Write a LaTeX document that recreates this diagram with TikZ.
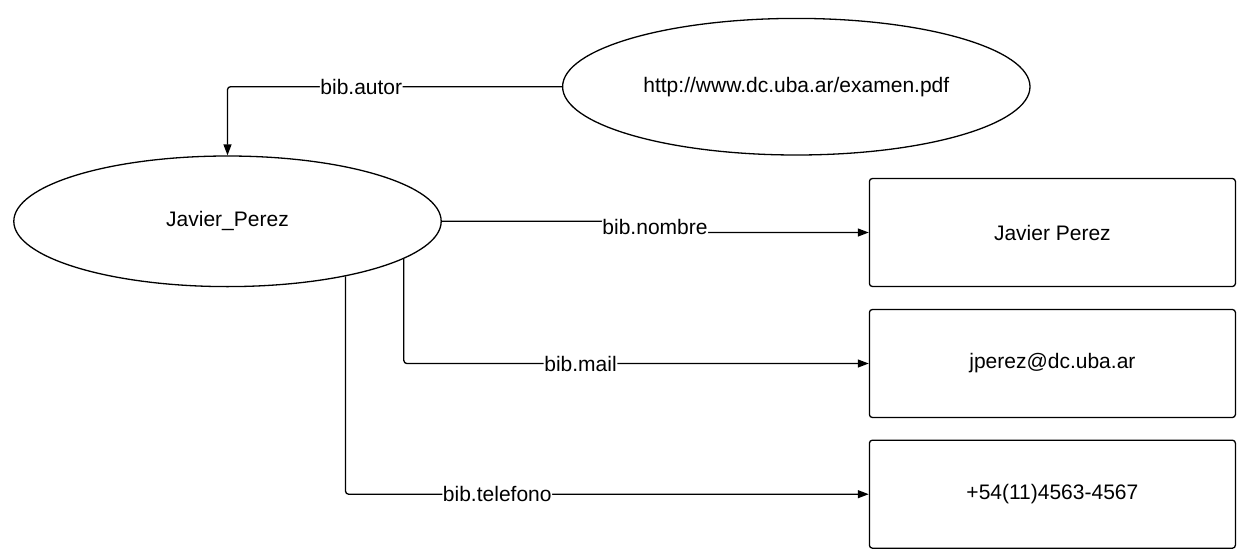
\documentclass[tikz,border=0pt]{standalone}
\usepackage{fontspec}
\setmainfont{Liberation Sans}
\usetikzlibrary{shapes.geometric,arrows.meta}
\begin{document}
\begin{tikzpicture}[x=1pt,y=-1pt,
  every node/.style={font=\fontsize{21}{25}\selectfont},
  oval/.style={draw, ellipse, inner sep=0pt, line width=1.3pt},
  valbox/.style={draw, rectangle, rounded corners=3pt, minimum width=366pt, minimum height=108pt, line width=1.3pt},
  conn/.style={draw, line width=1.3pt, rounded corners=3pt, -{Triangle[length=11pt,width=8pt]}},
  lbl/.style={fill=white, inner sep=0.6pt}]
\useasboundingbox (0,0) rectangle (1245,557);
\node[oval, minimum width=467.4pt, minimum height=136.6pt] (url) at (796.3,86.7) {http://www.dc.uba.ar/examen.pdf};
\node[oval, minimum width=427.4pt, minimum height=130.6pt] (J) at (227.5,221.3) {Javier\_Perez};
\node[valbox] (b1) at (1052.4,232.5) {Javier Perez};
\node[valbox] (b2) at (1052.4,363.5) {jperez@dc.uba.ar};
\node[valbox] (b3) at (1052.4,494.2) {+54(11)4563-4567};
\coordinate (nm) at (655,227);
\draw[conn] (url.west) -| node[lbl,pos=0.3]{bib.autor} (J.north);
\draw[conn] (J.east) -- (J.east -| nm) -- node[lbl]{bib.nombre} (nm |- b1.west) -- (b1.west);
\draw[conn] (J.-12.45) |- node[lbl,pos=0.69]{bib.mail} (b2.west);
\draw[conn] (J.-25.7) |- node[lbl,pos=0.645]{bib.telefono} (b3.west);
\end{tikzpicture}
\end{document}
